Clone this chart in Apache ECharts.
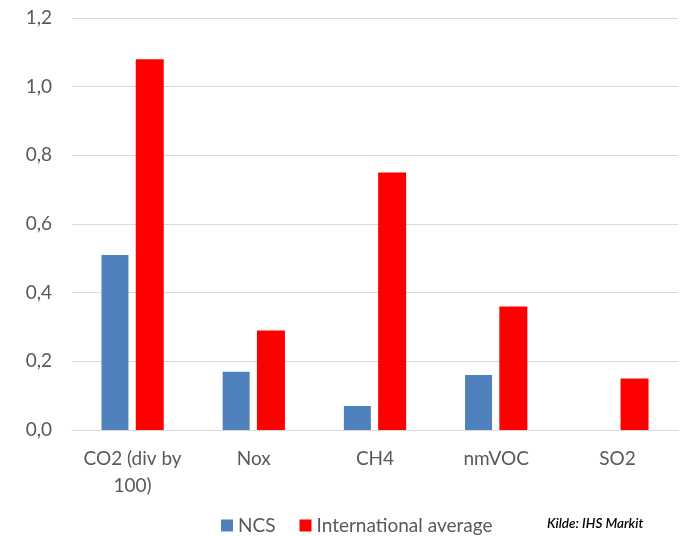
<!DOCTYPE html>
<html>
<head>
<meta charset="utf-8">
<script src="https://cdn.jsdelivr.net/npm/echarts@6/dist/echarts.min.js"></script>
<style>
html,body{margin:0;padding:0;background:#fff;}
#c{width:686px;height:536px;}
</style>
</head>
<body>
<div id="c"></div>
<script>
var categories = ['CO2 (div by\n100)', 'Nox', 'CH4', 'nmVOC', 'SO2'];
var ncsValues = [0.51, 0.17, 0.07, 0.16, null];
var intlValues = [1.08, 0.29, 0.75, 0.36, 0.15];
var seriesNames = ['NCS', 'International average'];
var sourceNote = 'Kilde: IHS Markit';

var chart = echarts.init(document.getElementById('c'));
var font = 'Lato, "Open Sans", sans-serif';
chart.setOption({
  animation: false,
  textStyle: {fontFamily: font},
  grid: {left: 72, right: 8, top: 18, bottom: 106, containLabel: false},
  legend: {
    data: seriesNames,
    left: 216, top: 511,
    itemWidth: 12, itemHeight: 12, itemGap: 24,
    icon: 'rect',
    textStyle: {fontSize: 19, color: '#595959', fontFamily: font}
  },
  graphic: [{
    type: 'text', left: 547, top: 517,
    style: {text: sourceNote, font: 'italic 600 13.5px ' + font, fill: '#000'}
  }],
  xAxis: {
    type: 'category',
    data: categories,
    axisLine: {lineStyle: {color: '#d9d9d9'}},
    axisTick: {show: false},
    axisLabel: {color: '#595959', fontSize: 19, margin: 15, lineHeight: 27, interval: 0}
  },
  yAxis: {
    type: 'value', min: 0, max: 1.2, interval: 0.2,
    axisLine: {show: false},
    axisTick: {show: false},
    splitLine: {lineStyle: {color: '#d9d9d9'}},
    axisLabel: {
      color: '#595959', fontSize: 19, margin: 20, align: 'right',
      formatter: function (v) { return v.toFixed(1).replace('.', ','); }
    }
  },
  series: [
    {name: seriesNames[0], type: 'bar', data: ncsValues, itemStyle: {color: '#4f81bd'}, barWidth: 27, barGap: '27%'},
    {name: seriesNames[1], type: 'bar', data: intlValues, itemStyle: {color: '#ff0000'}, barWidth: 28}
  ]
});
</script>
</body>
</html>
